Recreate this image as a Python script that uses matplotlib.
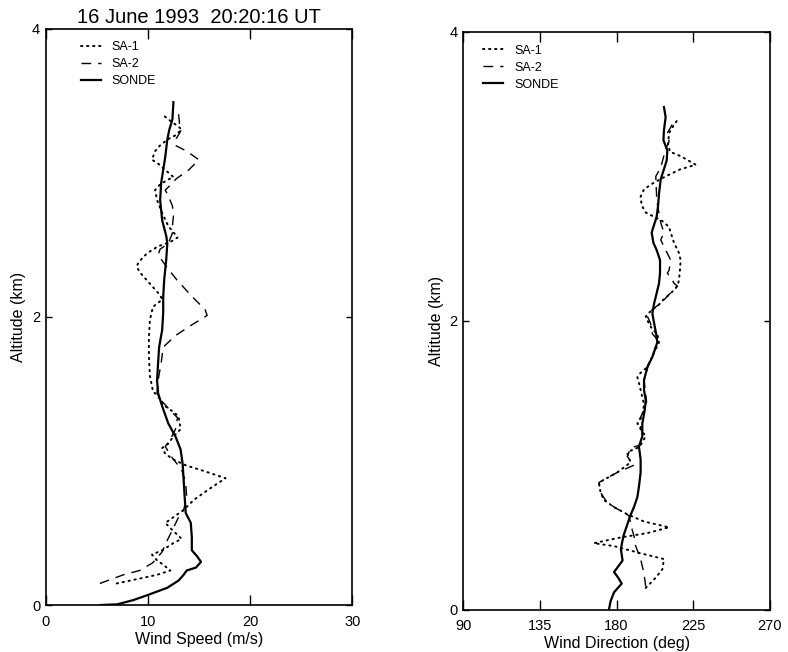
# ####################################### LOAD REQUIRED LIBRARIES ############################################# #
import matplotlib
matplotlib.use("Agg")
import matplotlib.pyplot as plt

plt.rcParams['font.family'] = ['Liberation Sans', 'DejaVu Sans']

# ####################################### DATA ################################################################ #
TITLE = "16 June 1993  20:20:16 UT"

# left panel: wind speed (m/s) vs altitude (km)
sonde_spd = [5.3, 7.0, 8.6, 10.0, 11.9, 13.0, 13.5, 13.8, 14.7, 15.2, 14.8, 14.3, 14.3, 14.2, 13.7, 13.6, 13.5,
             13.4, 13.2, 12.7, 12.0, 11.4, 11.0, 10.9, 11.0, 11.1, 11.4, 11.5, 11.5, 11.6, 11.8, 11.9, 11.8, 11.4,
             11.2, 11.3, 11.5, 11.7, 11.9, 12.1, 12.4, 12.5]
sonde_spd_alt = [0.0, 0.005, 0.035, 0.07, 0.12, 0.17, 0.21, 0.24, 0.26, 0.30, 0.34, 0.38, 0.47, 0.57, 0.64, 0.75,
                 0.87, 0.98, 1.08, 1.17, 1.26, 1.38, 1.47, 1.56, 1.68, 1.79, 1.91, 2.03, 2.14, 2.26, 2.40, 2.51,
                 2.56, 2.67, 2.81, 2.93, 3.02, 3.11, 3.23, 3.30, 3.37, 3.49]

sa1_spd = [6.95, 9.6, 10.9, 12.2, 11.5, 10.9, 10.4, 11.4, 12.5, 13.3, 12.4, 11.7, 12.5, 13.5, 14.5, 16.1, 17.6,
           15.5, 13.7, 12.5, 11.7, 11.4, 12.0, 12.5, 13.2, 13.0, 12.5, 11.5, 10.9, 10.5, 10.4, 10.2, 10.1, 10.1,
           10.2, 10.5, 11.4, 11.2, 10.2, 9.2, 8.9, 9.1, 9.9, 11.0, 12.2, 12.9, 12.7, 12.0, 11.4, 10.9, 10.7, 11.2,
           11.9, 12.5, 11.7, 10.9, 10.4, 10.7, 11.2, 11.9, 12.7, 13.3, 13.0, 12.2, 11.5]
sa1_spd_alt = [0.15, 0.19, 0.21, 0.24, 0.28, 0.31, 0.35, 0.38, 0.43, 0.46, 0.52, 0.57, 0.61, 0.66, 0.73, 0.81,
               0.88, 0.93, 0.97, 1.01, 1.05, 1.09, 1.12, 1.17, 1.22, 1.31, 1.34, 1.39, 1.46, 1.48, 1.52, 1.59,
               1.72, 1.86, 1.98, 2.07, 2.12, 2.15, 2.23, 2.31, 2.35, 2.38, 2.44, 2.49, 2.52, 2.55, 2.57, 2.63,
               2.72, 2.81, 2.88, 2.92, 2.95, 2.97, 3.02, 3.07, 3.09, 3.15, 3.19, 3.23, 3.26, 3.30, 3.32, 3.36, 3.40]

sa2_spd = [5.3, 7.6, 9.2, 10.4, 10.7, 11.4, 11.9, 12.4, 13.0, 13.5, 13.8, 13.7, 13.3, 12.4, 11.7, 12.2, 12.7, 12.9,
           12.2, 11.3, 10.9, 11.0, 11.3, 11.5, 12.7, 14.2, 15.8, 15.6, 14.2, 12.8, 11.9, 11.0, 11.2, 12.0, 12.4,
           12.4, 12.5, 12.4, 12.0, 11.7, 12.0, 12.8, 14.0, 15.0, 13.8, 12.7, 12.8, 13.3, 13.1, 13.0]
sa2_spd_alt = [0.15, 0.21, 0.24, 0.29, 0.31, 0.37, 0.45, 0.52, 0.61, 0.66, 0.75, 0.85, 0.94, 1.02, 1.10, 1.15,
               1.22, 1.30, 1.35, 1.42, 1.47, 1.56, 1.68, 1.79, 1.87, 1.94, 2.01, 2.05, 2.15, 2.26, 2.34, 2.43,
               2.47, 2.51, 2.58, 2.63, 2.70, 2.77, 2.84, 2.88, 2.90, 2.96, 3.02, 3.09, 3.15, 3.19, 3.24, 3.30,
               3.34, 3.41]

# right panel: wind direction (deg) vs altitude (km)
sonde_dir = [175.5, 176.5, 178.5, 183.0, 181.0, 178.5, 181.0, 183.5, 182.5, 184.0, 186.0, 188.0, 190.2, 192.2,
             193.1, 194.1, 194.1, 193.1, 195.1, 195.1, 196.5, 197.1, 196.1, 196.1, 198.1, 201.0, 203.9, 203.2,
             202.4, 201.0, 202.0, 203.5, 204.9, 205.5, 205.5, 203.5, 201.6, 200.6, 201.6, 203.5, 204.3, 204.9,
             205.9, 207.8, 209.4, 209.8, 207.5, 207.8, 208.8, 207.8]
sonde_dir_alt = [0.0, 0.06, 0.12, 0.18, 0.22, 0.26, 0.30, 0.34, 0.42, 0.51, 0.58, 0.65, 0.71, 0.78, 0.85, 0.95,
                 1.04, 1.13, 1.20, 1.29, 1.38, 1.45, 1.52, 1.59, 1.68, 1.75, 1.85, 1.91, 1.96, 2.05, 2.12, 2.19,
                 2.26, 2.33, 2.42, 2.49, 2.54, 2.61, 2.65, 2.72, 2.79, 2.88, 2.98, 3.05, 3.11, 3.18, 3.25, 3.32,
                 3.41, 3.48]

sa1_dir = [197.1, 202.9, 206.9, 207.8, 194.1, 178.4, 166.6, 182.4, 198.1, 210.8, 196.1, 186.3, 178.4, 172.5,
           170.6, 169.6, 180.4, 188.2, 186.3, 188.2, 192.2, 194.1, 197.1, 194.1, 192.2, 195.1, 196.1, 193.1,
           192.2, 194.1, 198.1, 202.0, 204.9, 203.9, 201.0, 199.0, 197.1, 201.0, 203.9, 207.8, 211.8, 215.7,
           216.6, 217.2, 217.6, 216.6, 213.7, 211.8, 210.8, 206.9, 202.0, 197.1, 194.7, 194.1, 196.1, 201.0,
           208.8, 217.6, 226.5, 217.6, 211.4, 210.2, 210.8, 212.8, 215.7]
sa1_dir_alt = [0.15, 0.22, 0.28, 0.35, 0.39, 0.44, 0.46, 0.50, 0.53, 0.57, 0.61, 0.66, 0.71, 0.76, 0.81, 0.88,
               0.95, 1.02, 1.08, 1.10, 1.12, 1.14, 1.20, 1.25, 1.29, 1.34, 1.42, 1.57, 1.61, 1.64, 1.68, 1.78,
               1.85, 1.91, 1.94, 1.98, 2.03, 2.08, 2.10, 2.15, 2.19, 2.24, 2.28, 2.35, 2.42, 2.47, 2.54, 2.61,
               2.65, 2.69, 2.72, 2.75, 2.80, 2.86, 2.91, 2.95, 3.00, 3.05, 3.08, 3.14, 3.17, 3.22, 3.30, 3.34, 3.39]

sa2_dir = [197.1, 196.1, 194.1, 191.2, 190.2, 189.2, 187.3, 181.4, 174.5, 170.6, 169.6, 180.4, 190.2, 186.3,
           188.2, 194.1, 195.1, 193.1, 196.1, 197.6, 196.1, 199.0, 202.0, 203.9, 201.0, 200.0, 198.1, 201.0,
           205.9, 209.8, 215.7, 213.7, 212.8, 209.8, 210.8, 211.8, 208.8, 205.9, 207.8, 205.9, 203.9, 203.5,
           203.0, 205.9, 208.8, 210.8, 209.8, 213.2]
sa2_dir_alt = [0.16, 0.25, 0.35, 0.44, 0.51, 0.55, 0.65, 0.69, 0.74, 0.81, 0.88, 0.95, 1.00, 1.06, 1.12, 1.14,
               1.22, 1.31, 1.38, 1.44, 1.59, 1.71, 1.78, 1.87, 1.91, 1.98, 2.03, 2.08, 2.12, 2.17, 2.24, 2.26,
               2.28, 2.33, 2.35, 2.42, 2.49, 2.56, 2.61, 2.68, 2.81, 2.86, 3.00, 3.06, 3.19, 3.24, 3.30, 3.37]

speed_ticks = [0, 10, 20, 30]
dir_ticks = [90, 135, 180, 225, 270]
alt_ticks = [0, 2, 4]


# ####################################### Functions ########################################################## #
def draw_panel(ax, xs, ys, xlim, xticks, xlabel, legend_x):
    ax.plot(xs[0], ys[0], color='black', lw=1.4, linestyle=(0, (0.7, 2.4)), dash_capstyle='round', label='SA-1')
    ax.plot(xs[1], ys[1], color='black', lw=1.0, linestyle=(0, (7, 5)), label='SA-2')
    ax.plot(xs[2], ys[2], color='black', lw=1.6, label='SONDE')
    ax.set_xlim(xlim)
    ax.set_ylim(0, 4)
    ax.set_xticks(xticks)
    ax.set_yticks(alt_ticks)
    ax.tick_params(direction='in', width=1.0, top=True, right=True, labelsize=10.5)
    ax.tick_params(axis='x', length=7, pad=7)
    ax.tick_params(axis='y', length=4.5, pad=4)
    ax.set_xlabel(xlabel, fontsize=11.5, labelpad=2)
    ax.set_ylabel('Altitude (km)', fontsize=11.5, labelpad=4)
    for sp in ax.spines.values():
        sp.set_linewidth(1.2)
    ax.legend(loc='upper left', bbox_to_anchor=(legend_x, 0.978), frameon=False, fontsize=9,
              handlelength=1.6, handletextpad=0.9, labelspacing=0.4, borderpad=0, borderaxespad=0)


# ####################################### PLOT ################################################################ #
fig = plt.figure(figsize=(7.88, 6.52), dpi=100)
ax1 = fig.add_axes([0.058, 0.072, 0.389, 0.884])
ax2 = fig.add_axes([0.588, 0.065, 0.389, 0.886])

draw_panel(ax1, [sa1_spd, sa2_spd, sonde_spd], [sa1_spd_alt, sa2_spd_alt, sonde_spd_alt],
           (0, 30), speed_ticks, 'Wind Speed (m/s)', 0.114)
draw_panel(ax2, [sa1_dir, sa2_dir, sonde_dir], [sa1_dir_alt, sa2_dir_alt, sonde_dir_alt],
           (90, 270), dir_ticks, 'Wind Direction (deg)', 0.065)

ax1.set_title(TITLE, fontsize=14.5, pad=4)

fig.savefig('out.png', dpi=100)
